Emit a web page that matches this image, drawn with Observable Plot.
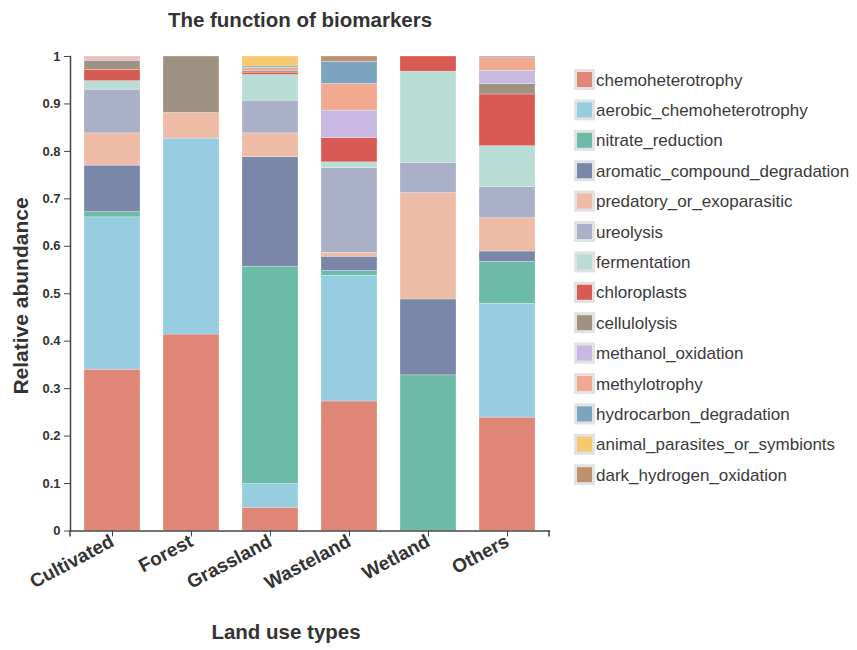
<!DOCTYPE html>
<html>
<head>
<meta charset="utf-8">
<script src="https://cdn.jsdelivr.net/npm/d3@7"></script>
<script src="https://cdn.jsdelivr.net/npm/@observablehq/plot@0.6"></script>
<style>
  html, body { margin: 0; padding: 0; background: #fff; }
  #chart { width: 857px; height: 650px; }
  #chart svg { overflow: visible; }
</style>
</head>
<body>
<div id="chart"></div>
<script>
const landTypes = ["Cultivated", "Forest", "Grassland", "Wasteland", "Wetland", "Others"];
const functions = [
  "chemoheterotrophy", "aerobic_chemoheterotrophy", "nitrate_reduction",
  "aromatic_compound_degradation", "predatory_or_exoparasitic", "ureolysis",
  "fermentation", "chloroplasts", "cellulolysis", "methanol_oxidation",
  "methylotrophy", "hydrocarbon_degradation", "animal_parasites_or_symbionts",
  "dark_hydrogen_oxidation"
];
const colors = [
  "#df8677", "#96cde0", "#6cbaa8", "#7a87a8", "#eebba7", "#abb0c9", "#b9ddd4",
  "#d85a53", "#a09282", "#c8b8e2", "#f1a990", "#7ba4be", "#f4c970", "#c09170"
];
// values per land type, in the order of `functions`
const cultivated = [0.340, 0.321, 0.011, 0.098, 0.068, 0.092, 0.018, 0.024, 0.019, 0.003, 0.004, 0.001, 0.000, 0.001];
const forest     = [0.414, 0.413, 0.000, 0.000, 0.054, 0.000, 0.000, 0.000, 0.119, 0.000, 0.000, 0.000, 0.000, 0.000];
const grassland  = [0.049, 0.050, 0.458, 0.231, 0.050, 0.069, 0.054, 0.005, 0.004, 0.000, 0.006, 0.003, 0.021, 0.000];
const wasteland  = [0.273, 0.265, 0.010, 0.030, 0.008, 0.179, 0.012, 0.051, 0.000, 0.058, 0.056, 0.047, 0.000, 0.011];
const wetland    = [0.000, 0.000, 0.328, 0.160, 0.224, 0.064, 0.192, 0.032, 0.000, 0.000, 0.000, 0.000, 0.000, 0.000];
const others     = [0.239, 0.240, 0.088, 0.022, 0.070, 0.066, 0.086, 0.109, 0.022, 0.028, 0.028, 0.002, 0.000, 0.000];
const yTicks = [0, 0.1, 0.2, 0.3, 0.4, 0.5, 0.6, 0.7, 0.8, 0.9, 1];

const seriesByLand = [cultivated, forest, grassland, wasteland, wetland, others];
const rows = [];
functions.forEach((f, fi) => {
  landTypes.forEach((land, li) => {
    rows.push({land, func: f, value: seriesByLand[li][fi]});
  });
});

const font = "'Liberation Sans', Arial, Helvetica, sans-serif";
const textColor = "#333";

const plot = Plot.plot({
  width: 857,
  height: 650,
  marginLeft: 70,
  marginRight: 308,
  marginTop: 56,
  marginBottom: 119.5,
  style: {fontFamily: font, color: textColor, background: "#fff", overflow: "visible"},
  x: {domain: landTypes, paddingInner: 0.29, paddingOuter: 0.145, label: null},
  y: {domain: [0, 1], label: null},
  color: {domain: functions, range: colors},
  marks: [
    Plot.barY(rows, {
      x: "land", y: "value", fill: "func",
      stroke: "#fff", strokeOpacity: 0.45, strokeWidth: 0.6
    }),
    Plot.axisY({
      ticks: yTicks, tickSize: 6, tickPadding: 4, fontSize: 13, fontWeight: "bold",
      tickFormat: d => String(+d.toFixed(1)), label: null, stroke: "#444"
    }),
    Plot.axisX({
      tickSize: 6, tickRotate: -28, fontSize: 19, fontWeight: "bold",
      tickPadding: 3, label: null, stroke: "#444"
    }),
    Plot.frame({anchor: "left", stroke: "#444", strokeWidth: 1.5}),
    Plot.frame({anchor: "bottom", stroke: "#444", strokeWidth: 1.5})
  ]
});

document.getElementById("chart").appendChild(plot);

const svg = d3.select(plot);
const xr = plot.scale("x").range;
const yr = plot.scale("y").range;
const colorScale = plot.scale("color");

// outer ticks of the x axis
svg.append("g").attr("stroke", "#444").attr("stroke-width", 1.5)
  .selectAll("line").data([xr[0], xr[1]]).join("line")
  .attr("x1", d => d).attr("x2", d => d)
  .attr("y1", yr[0]).attr("y2", yr[0] + 6);

// title and axis labels
svg.append("text")
  .attr("x", 300).attr("y", 27)
  .attr("text-anchor", "middle")
  .attr("font-family", font).attr("font-weight", "bold").attr("font-size", 20.5)
  .attr("fill", textColor)
  .text("The function of biomarkers");

svg.append("text")
  .attr("x", 286).attr("y", 639)
  .attr("text-anchor", "middle")
  .attr("font-family", font).attr("font-weight", "bold").attr("font-size", 20.5)
  .attr("fill", textColor)
  .text("Land use types");

svg.append("text")
  .attr("transform", "translate(28,296) rotate(-90)")
  .attr("text-anchor", "middle")
  .attr("font-family", font).attr("font-weight", "bold").attr("font-size", 21)
  .attr("fill", textColor)
  .text("Relative abundance");

// legend
const legend = svg.append("g").attr("transform", "translate(574,79.5)")
  .attr("text-anchor", "start");
const item = legend.selectAll("g").data(functions).join("g")
  .attr("transform", (d, i) => `translate(0,${i * 30.4})`);
item.append("rect")
  .attr("x", 0).attr("y", -10.5).attr("width", 21).attr("height", 21)
  .attr("fill", "#e2e2e2");
item.append("rect")
  .attr("x", 3).attr("y", -7.5).attr("width", 15).attr("height", 15)
  .attr("fill", d => colorScale.apply(d));
item.append("text")
  .attr("x", 22).attr("y", 6)
  .attr("text-anchor", "start")
  .attr("font-family", font).attr("font-size", 17)
  .attr("fill", "#3a3a3a")
  .text(d => d);
</script>
</body>
</html>
